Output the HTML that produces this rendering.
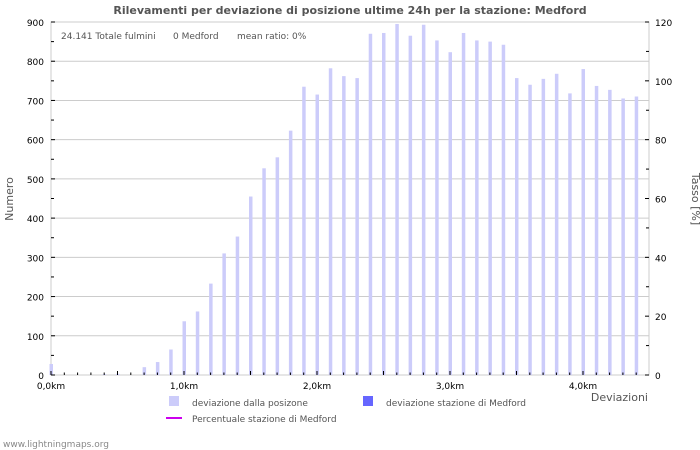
<!DOCTYPE html>
<html><head><meta charset="utf-8"><style>
body{margin:0;background:#fff;}
svg{display:block;font-family:"DejaVu Sans","Liberation Sans",sans-serif;}
</style></head><body>
<svg id="chart" width="700" height="450" viewBox="0 0 700 450" xmlns="http://www.w3.org/2000/svg">
<rect width="700" height="450" fill="#fff"/>
<text x="350" y="14" text-anchor="middle" font-size="11" font-weight="bold" fill="#555">Rilevamenti per deviazione di posizione ultime 24h per la stazione: Medford</text>
<rect x="51" y="22" width="598" height="353" fill="none" stroke="#ccc"/>
<g id="grid"></g><g id="bars"></g><g id="axes"></g>
<text x="61" y="39" font-size="9" fill="#555">24.141 Totale fulmini</text>
<text x="173" y="39" font-size="9" fill="#555">0 Medford</text>
<text x="237" y="39" font-size="9" fill="#555">mean ratio: 0%</text>
<text transform="translate(13,199) rotate(-90)" text-anchor="middle" font-size="11" fill="#555">Numero</text>
<text transform="translate(692,199) rotate(90)" text-anchor="middle" font-size="11" fill="#555">Tasso [%]</text>
<text x="648" y="401" text-anchor="end" font-size="11" fill="#555">Deviazioni</text>
<rect x="169" y="396" width="10" height="10" fill="#ccccfa"/>
<text x="192" y="406" font-size="9" fill="#555">deviazione dalla posizone</text>
<rect x="363" y="396" width="10" height="10" fill="#6666ff"/>
<text x="386" y="406" font-size="9" fill="#555">deviazione stazione di Medford</text>
<line x1="166" y1="418" x2="182" y2="418" stroke="#cc00ee" stroke-width="2"/>
<text x="192" y="422" font-size="9" fill="#555">Percentuale stazione di Medford</text>
<text x="3" y="447" font-size="9" fill="#888">www.lightningmaps.org</text>
</svg>
<script>
const values=[28,0,0,0,2,3,0,20,33,65,137,162,233,310,353,455,527,555,623,735,715,782,762,757,870,872,895,865,893,853,823,872,853,850,842,757,740,755,768,718,780,737,727,705,710];
const yTicks=[0,100,200,300,400,500,600,700,800,900];
const y2Ticks=[0,20,40,60,80,100,120];
const xTickLabels=["0,0km","1,0km","2,0km","3,0km","4,0km"];
const NS="http://www.w3.org/2000/svg";
const X0=51,STEP=13.3,Y0=375,YT=22;
const x=i=>X0+i*STEP;
const y=v=>Y0-v/900*(Y0-YT);
const y2=v=>Y0-v/120*(Y0-YT);
function mk(t,a,p){const e=document.createElementNS(NS,t);for(const k in a)e.setAttribute(k,a[k]);p.appendChild(e);return e;}
const grid=document.getElementById('grid'),bars=document.getElementById('bars'),axes=document.getElementById('axes');
yTicks.forEach(v=>{
 if(v>0&&v<900){const g=mk('line',{x1:X0,x2:649,y1:y(v),y2:y(v),stroke:'#ccc'},grid);
 
 }
 const t=mk('text',{x:44,y:y(v)+4,'text-anchor':'end','font-size':9,fill:'#000'},axes);t.textContent=v;
 
 
 mk('line',{x1:X0,x2:X0+4,y1:y(v),y2:y(v),stroke:'#000'},axes);
 if(v<900)mk('line',{x1:X0,x2:X0+3,y1:y(v+50),y2:y(v+50),stroke:'#000'},axes);
});
y2Ticks.forEach(v=>{
 const t=mk('text',{x:655,y:y2(v)+4,'font-size':9,fill:'#000'},axes);t.textContent=v;
 
 
 mk('line',{x1:645,x2:649,y1:y2(v),y2:y2(v),stroke:'#000'},axes);
 if(v<120)mk('line',{x1:646,x2:649,y1:y2(v+10),y2:y2(v+10),stroke:'#000'},axes);
});
values.forEach((v,i)=>{
 const b=mk('rect',{x:x(i)-1.5,y:y(v),width:3.5,height:Y0-y(v),fill:'#ccccfa'},bars);
 
 
 mk('line',{x1:x(i),x2:x(i),y1:Y0-(i%5==0?4:2.5),y2:Y0,stroke:'#000'},axes);
});
xTickLabels.forEach((l,k)=>{
 const t=mk('text',{x:x(k*10),y:389,'text-anchor':'middle','font-size':9,fill:'#000'},axes);t.textContent=l;
 
 
});
</script>
</body></html>
